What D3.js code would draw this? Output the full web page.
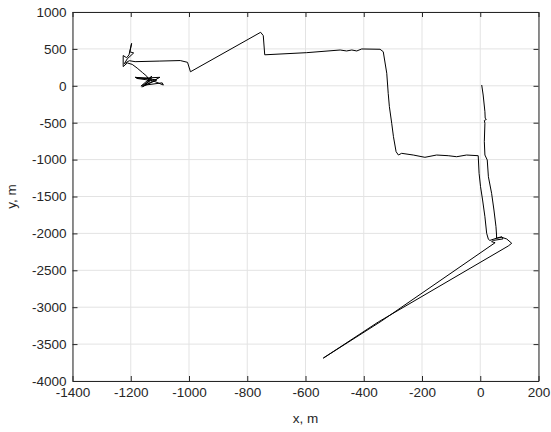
<!DOCTYPE html>
<html>
<head>
<meta charset="utf-8">
<script src="https://cdn.jsdelivr.net/npm/d3@7"></script>
<style>
  body { margin: 0; background: #fff; }
  text { font-family: "Liberation Sans", Arial, Helvetica, sans-serif; }
</style>
</head>
<body>
<div id="my_dataviz"></div>
<script>
// track coordinates (metres)
var trackX = [-1162, -1128, -1185, -1110, -1158, -1100, -1180, -1125, -1088, -1092,
  -1150, -1128, -1140, -1165, -1135, -1145, -1160, -1178, -1195, -1212,
  -1226, -1226, -1214, -1206, -1197, -1203, -1190, -1212, -1222, -1205,
  -1185, -1100, -1030, -1005, -995, -754, -745, -740, -596, -481,
  -459, -441, -424, -407, -344, -333, -321, -316, -312, -304,
  -298, -289, -281, -270, -230, -190, -150, -110, -81, -47,
  -7, -4, 1, 8, 16, 22, 28, 33, 60, 74,
  78, 45, 39, 51, -340, -539, -350, 96, 108, 91,
  74, 56, 56, 54, 47, 39, 28, 24, 16, 14,
  16, 14, 21, 17, 16, 10, 5];
var trackY = [-20, 95, 115, 80, -8, 115, 100, 70, 10, 40,
  10, 133, 80, -5, 60, 130, 180, 240, 290, 310,
  260, 410, 380, 420, 575, 460, 445, 365, 300, 340,
  327, 335, 342, 318, 190, 725, 680, 420, 449, 485,
  472, 485, 472, 499, 495, 462, 170, -102, -283, -508,
  -690, -893, -938, -915, -938, -969, -938, -947, -961, -938,
  -947, -1186, -1367, -1547, -1774, -1999, -2080, -2095, -2060, -2045,
  -2075, -2095, -2112, -2126, -3190, -3690, -3200, -2171, -2134, -2076,
  -2053, -2066, -2022, -1909, -1683, -1457, -1232, -1005, -938, -757,
  -508, -470, -455, -440, -351, -125, 11];

var xTicks = [-1400, -1200, -1000, -800, -600, -400, -200, 0, 200];
var yTicks = [-4000, -3500, -3000, -2500, -2000, -1500, -1000, -500, 0, 500, 1000];

var margin = {top: 12, right: 12.5, bottom: 51, left: 72.5},
  width = 551 - margin.left - margin.right,
  height = 432 - margin.top - margin.bottom;

var svg = d3.select("#my_dataviz")
.append("svg")
  .attr("width", 551)
  .attr("height", 432)
.append("g")
  .attr("transform", "translate(" + margin.left + "," + margin.top + ")");

var x = d3.scaleLinear().domain([-1400, 200]).range([0, width]);
var y = d3.scaleLinear().domain([-4000, 1000]).range([height, 0]);

// grid
svg.append("g").selectAll("line")
  .data(xTicks)
  .enter().append("line")
    .attr("x1", function(d) { return x(d); })
    .attr("x2", function(d) { return x(d); })
    .attr("y1", 0).attr("y2", height)
    .style("stroke", "#e3e3e3");
svg.append("g").selectAll("line")
  .data(yTicks)
  .enter().append("line")
    .attr("x1", 0).attr("x2", width)
    .attr("y1", function(d) { return y(d); })
    .attr("y2", function(d) { return y(d); })
    .style("stroke", "#e3e3e3");

// track
var line = d3.line()
  .x(function(d) { return x(trackX[d]); })
  .y(function(d) { return y(trackY[d]); });
svg.append("path")
  .datum(d3.range(trackX.length))
  .attr("d", line)
  .style("fill", "none")
  .style("stroke", "#000")
  .style("stroke-width", 1)
  .style("stroke-linejoin", "round");

// axes, ticks inside like matlab, box on
var fmt = function(d) { return String(d); };
function styleAxis(g) {
  g.selectAll("path, line").style("stroke", "#262626");
  g.selectAll("text").style("fill", "#262626").style("font-size", "13.5px");
}
svg.append("g")
  .attr("transform", "translate(0," + height + ")")
  .call(d3.axisBottom(x).tickValues(xTicks).tickFormat(fmt).tickSize(-5).tickSizeOuter(0).tickPadding(6))
  .call(styleAxis);
svg.append("g")
  .call(d3.axisLeft(y).tickValues(yTicks).tickFormat(fmt).tickSize(-5).tickSizeOuter(0).tickPadding(6))
  .call(styleAxis);
svg.append("g")
  .call(d3.axisTop(x).tickValues(xTicks).tickSize(-5).tickSizeOuter(0).tickFormat(""))
  .call(styleAxis);
svg.append("g")
  .attr("transform", "translate(" + width + ",0)")
  .call(d3.axisRight(y).tickValues(yTicks).tickSize(-5).tickSizeOuter(0).tickFormat(""))
  .call(styleAxis);

// labels
svg.append("text")
  .attr("x", width / 2)
  .attr("y", height + 42)
  .attr("text-anchor", "middle")
  .style("font-size", "13.5px")
  .style("fill", "#262626")
  .text("x, m");
svg.append("text")
  .attr("transform", "rotate(-90)")
  .attr("x", -height / 2)
  .attr("y", -57)
  .attr("text-anchor", "middle")
  .style("font-size", "13.5px")
  .style("fill", "#262626")
  .text("y, m");
</script>
</body>
</html>
